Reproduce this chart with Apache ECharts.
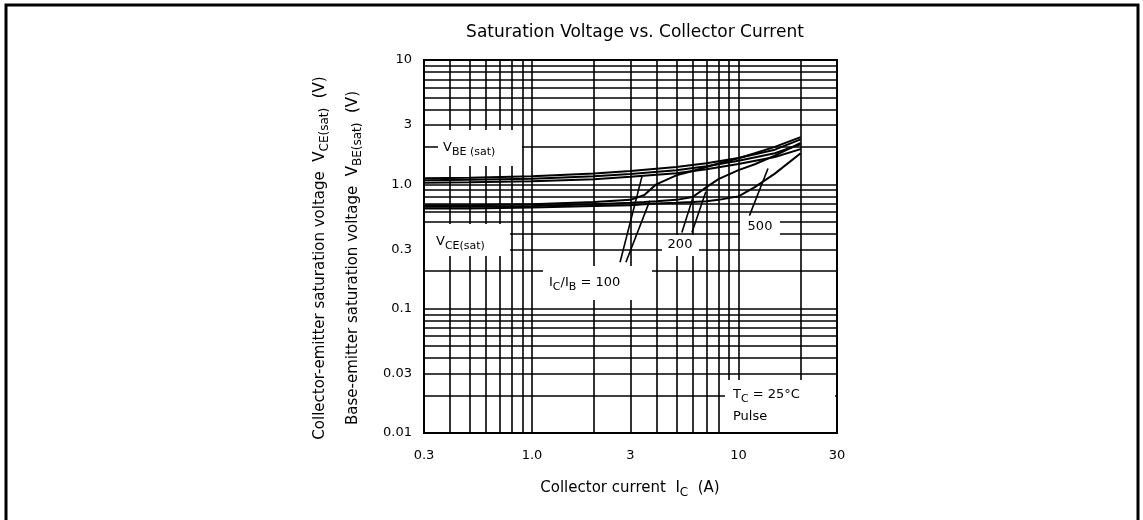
<!DOCTYPE html>
<html><head><meta charset="utf-8">
<script src="https://cdn.jsdelivr.net/npm/echarts@6/dist/echarts.min.js"></script>
<style>html,body{margin:0;padding:0;background:#fff}#c{width:1143px;height:520px}</style>
</head><body><div id="c"></div>
<script>
const titleText = 'Saturation Voltage vs. Collector Current';
const xAxisTitle = 'Collector current  I';
const xAxisTitleSub = 'C';
const xAxisTitleUnit = '  (A)';
const yTitleCE = 'Collector-emitter saturation voltage  V';
const yTitleBE = 'Base-emitter saturation voltage  V';
const xTickValues = [0.3, 1, 3, 10, 30];
const xTickLabels = ['0.3', '1.0', '3', '10', '30'];
const yTickValues = [0.01, 0.03, 0.1, 0.3, 1, 3, 10];
const yTickLabels = ['0.01', '0.03', '0.1', '0.3', '1.0', '3', '10'];

// V_BE(sat) curves (A, V)
const currentVbe = [0.3, 0.5, 1, 2, 3, 5, 7, 10, 15, 20];
const vbe100 = [1.12, 1.13, 1.16, 1.22, 1.28, 1.38, 1.48, 1.63, 1.90, 2.30];
const vbe200 = [1.08, 1.09, 1.11, 1.16, 1.21, 1.30, 1.40, 1.55, 1.78, 2.10];
const vbe500 = [1.03, 1.04, 1.06, 1.10, 1.15, 1.23, 1.32, 1.46, 1.66, 1.92];
// V_CE(sat) curves
const currentVce = [0.3, 0.5, 1, 2, 3, 3.5, 4, 5, 6, 7, 8, 10, 12, 15, 20];
const vce100 = [0.68, 0.68, 0.69, 0.72, 0.75, 0.82, 1.00, 1.18, 1.28, 1.38, 1.47, 1.62, 1.78, 2.00, 2.40];
const vce200 = [0.66, 0.66, 0.67, 0.69, 0.71, 0.72, 0.73, 0.75, 0.79, 0.95, 1.10, 1.30, 1.45, 1.70, 2.15];
const vce500 = [0.64, 0.64, 0.65, 0.67, 0.68, 0.69, 0.70, 0.71, 0.72, 0.73, 0.75, 0.80, 0.95, 1.22, 1.78];

// leader lines from labels to curves (A, V)
const leaders = [
  [[2.67, 0.236], [3.42, 1.18]],
  [[2.85, 0.236], [3.72, 0.74]],
  [[5.32, 0.41], [6.0, 0.77]],
  [[5.95, 0.41], [6.95, 0.87]],
  [[11.3, 0.56], [13.9, 1.34]]
];

const xGridValues = [];
[0.1, 1, 10].forEach(d => { for (let k = 1; k <= 9; k++) { const v = +(k * d).toPrecision(3); if (v > 0.3 && v < 30) xGridValues.push(v); } });
const yGridValues = [];
[0.01, 0.1, 1].forEach(d => { for (let k = 1; k <= 9; k++) { const v = +(k * d).toPrecision(3); if (v > 0.01 && v < 10) yGridValues.push(v); } });

const FONT = 'DejaVu Sans';
function lab(vals, labels) {
  return v => { const i = vals.findIndex(t => Math.abs(Math.log10(t) - Math.log10(v)) < 1e-6); return i >= 0 ? labels[i] : ''; };
}
function mkSeries(name, xs, ys, extra) {
  return Object.assign({
    name, type: 'line', data: xs.map((x, i) => [x, ys[i]]), symbol: 'none',
    lineStyle: { color: '#000', width: 2 }, silent: true, z: 5
  }, extra || {});
}
const gridLineData = xGridValues.map(v => ({ xAxis: v })).concat(yGridValues.map(v => ({ yAxis: v })));
const leaderData = leaders.map(p => [{ coord: p[0] }, { coord: p[1] }]);

function mkRich(big, small) {
  return {
    n: { fontSize: big, fontFamily: FONT, lineHeight: big + 7, verticalAlign: 'middle', fill: '#000', color: '#000' },
    s: { fontSize: small, fontFamily: FONT, lineHeight: small - 1, verticalAlign: 'bottom', fill: '#000', color: '#000' }
  };
}
const rich = mkRich(13, 11);
function box(x, y, w, h) {
  return { type: 'rect', shape: { x, y, width: w, height: h }, style: { fill: '#fff' }, z: 100, silent: true };
}
function txt(x, y, text, opts, r) {
  return Object.assign({ type: 'text', x, y, z: 101, silent: true,
    style: Object.assign({ text, fill: '#000', font: '13px ' + FONT, align: 'left', verticalAlign: 'middle', rich: r || rich }, (opts || {})) });
}

const chart = echarts.init(document.getElementById('c'));
chart.setOption({
  animation: false,
  backgroundColor: '#fff',
  title: { text: titleText, left: 630, top: 19, textAlign: 'center',
    textStyle: { fontSize: 17, fontWeight: 'normal', fontFamily: FONT, color: '#000' } },
  grid: { left: 424, right: 306, top: 60, bottom: 87, show: true, borderColor: '#000', borderWidth: 2, backgroundColor: '#fff' },
  xAxis: {
    type: 'log', logBase: 10, min: 0.3, max: 30,
    axisLine: { show: false }, axisTick: { show: false }, splitLine: { show: false }, minorSplitLine: { show: false },
    axisLabel: { customValues: xTickValues, formatter: lab(xTickValues, xTickLabels), color: '#000', fontSize: 13, fontFamily: FONT, margin: 16, showMinLabel: true, showMaxLabel: true }
  },
  yAxis: {
    type: 'log', logBase: 10, min: 0.01, max: 10,
    axisLine: { show: false }, axisTick: { show: false }, splitLine: { show: false },
    axisLabel: { customValues: yTickValues, formatter: lab(yTickValues, yTickLabels), color: '#000', fontSize: 13, fontFamily: FONT, margin: 12, showMinLabel: true, showMaxLabel: true }
  },
  series: [
    mkSeries('VBE 100', currentVbe, vbe100, {
      markLine: { silent: true, symbol: ['none', 'none'], label: { show: false }, animation: false,
        lineStyle: { color: '#000', width: 1.6, type: 'solid' }, emphasis: { disabled: true },
        data: gridLineData.concat(leaderData) }
    }),
    mkSeries('VBE 200', currentVbe, vbe200),
    mkSeries('VBE 500', currentVbe, vbe500),
    mkSeries('VCE 100', currentVce, vce100),
    mkSeries('VCE 200', currentVce, vce200),
    mkSeries('VCE 500', currentVce, vce500)
  ],
  graphic: [
    { type: 'rect', shape: { x: 6, y: 5, width: 1132, height: 540 }, style: { fill: 'none', stroke: '#000', lineWidth: 3 }, silent: true, z: 200 },
    txt(320, 258, '{n|' + yTitleCE + '}{s|CE(sat)}{n|  (V)}', { align: 'center' }, mkRich(15, 12)),
    txt(353, 258, '{n|' + yTitleBE + '}{s|BE(sat)}{n|  (V)}', { align: 'center' }, mkRich(15, 12)),
    txt(630, 488, '{n|' + xAxisTitle + '}{s|' + xAxisTitleSub + '}{n|' + xAxisTitleUnit + '}', { align: 'center' }, mkRich(15, 12)),
    box(438, 130, 84, 36),
    txt(443, 148, '{n|V}{s|BE (sat)}'),
    box(425, 224, 85, 32),
    txt(436, 242, '{n|V}{s|CE(sat)}'),
    box(543, 266, 109, 34),
    txt(549, 283, '{n|I}{s|C}{n|/I}{s|B}{n| = 100}'),
    box(662, 235, 37, 21),
    txt(680, 245, '200', { align: 'center' }),
    box(740, 217, 40, 20),
    txt(760, 227, '500', { align: 'center' }),
    box(725, 380, 110, 52),
    txt(733, 395, '{n|T}{s|C}{n| = 25°C}'),
    txt(733, 417, 'Pulse')
  ]
});
// rotate y-axis titles
const opt = chart.getOption();
opt.graphic[0].elements[1].rotation = Math.PI / 2;
opt.graphic[0].elements[2].rotation = Math.PI / 2;
chart.setOption({ graphic: opt.graphic });
</script>
</body></html>
